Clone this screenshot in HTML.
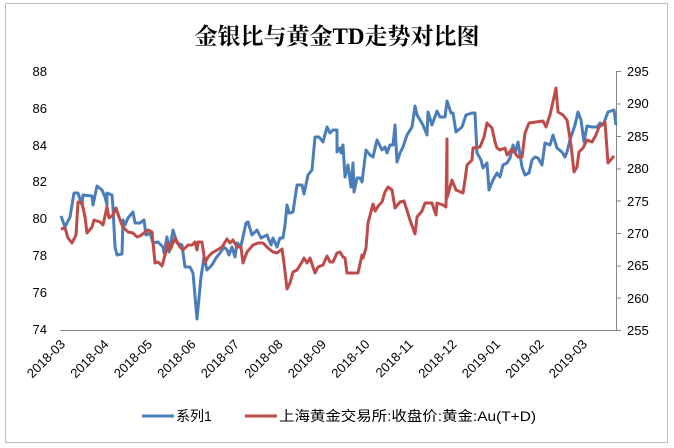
<!DOCTYPE html>
<html><head><meta charset="utf-8"><style>
body{margin:0;background:#fff}
svg{display:block;font-family:"Liberation Sans","Noto Sans CJK SC",sans-serif}
</style></head><body>
<svg width="674" height="448" viewBox="0 0 674 448">
<rect x="5.5" y="3.5" width="662" height="439" fill="#fff" stroke="#bfbfbf"/>
<text x="337" y="44" text-anchor="middle" font-size="23" font-weight="bold" font-family="'Liberation Serif','Noto Serif CJK SC',serif" fill="#000">金银比与黄金TD走势对比图</text>
<g font-size="13" fill="#000" text-anchor="end">
<text x="47" y="76">88</text><text x="47" y="113">86</text><text x="47" y="150">84</text><text x="47" y="186">82</text><text x="47" y="223">80</text><text x="47" y="260">78</text><text x="47" y="297">76</text><text x="47" y="334">74</text>
</g>
<g font-size="13" fill="#000">
<text x="627" y="76">295</text><text x="627" y="108">290</text><text x="627" y="141">285</text><text x="627" y="173">280</text><text x="627" y="206">275</text><text x="627" y="238">270</text><text x="627" y="270">265</text><text x="627" y="303">260</text><text x="627" y="335">255</text>
</g>
<line x1="60" y1="330.5" x2="616" y2="330.5" stroke="#868686"/>
<line x1="616.5" y1="71" x2="616.5" y2="330" stroke="#868686"/>
<g stroke="#868686"><line x1="616" y1="71.5" x2="621" y2="71.5"/><line x1="616" y1="104" x2="621" y2="104"/><line x1="616" y1="136.5" x2="621" y2="136.5"/><line x1="616" y1="169" x2="621" y2="169"/><line x1="616" y1="201" x2="621" y2="201"/><line x1="616" y1="233.5" x2="621" y2="233.5"/><line x1="616" y1="266" x2="621" y2="266"/><line x1="616" y1="298" x2="621" y2="298"/><line x1="616" y1="330.5" x2="621" y2="330.5"/></g>
<g font-size="13" fill="#000" text-anchor="end">
<text transform="translate(66,345) rotate(-45)">2018-03</text>
<text transform="translate(109.5,345) rotate(-45)">2018-04</text>
<text transform="translate(153,345) rotate(-45)">2018-05</text>
<text transform="translate(196.5,345) rotate(-45)">2018-06</text>
<text transform="translate(240,345) rotate(-45)">2018-07</text>
<text transform="translate(283.5,345) rotate(-45)">2018-08</text>
<text transform="translate(327,345) rotate(-45)">2018-09</text>
<text transform="translate(370.5,345) rotate(-45)">2018-10</text>
<text transform="translate(414,345) rotate(-45)">2018-11</text>
<text transform="translate(457.5,345) rotate(-45)">2018-12</text>
<text transform="translate(501,345) rotate(-45)">2019-01</text>
<text transform="translate(544.5,345) rotate(-45)">2019-02</text>
<text transform="translate(588,345) rotate(-45)">2019-03</text>
</g>
<polyline fill="none" stroke="#4a7ebb" stroke-width="3" stroke-linejoin="round" points="61,216 65,227 70,217 74,193 78,193 82,205 83,195 92,196 93,205 97,186 102,190 105,197 107,205 107,193 112,195 113,208 115,247 117,255 122,254 123,220 125,225 128,218 133,212 135,223 140,223 144,220 146,235 150,233 153,243 158,242 163,247 164,253 167,237 169,252 173,230 177,243 182,245 185,267 190,267 193,273 197,319 201,277 204,257 207,270 212,265 216,258 220,253 224,247 227,250 229,255 232,247 235,257 237,243 241,246 243,237 246,223 248,222 252,235 257,230 261,238 267,235 271,245 273,238 277,247 280,238 283,238 285,225 287,205 289,213 293,212 297,185 302,185 304,194 308,175 312,170 315,137 319,137 323,142 327,127 330,133 333,130 337,130 337,152 340,148 341,153 343,145 345,177 348,165 351,187 353,163 354,192 357,178 360,178 362,182 366,150 370,155 373,157 377,140 382,150 385,147 387,153 390,145 393,145 395,125 397,162 400,153 403,147 407,135 412,127 415,106 417,115 423,125 427,135 428,112 432,125 437,111 440,117 445,117 447,101 451,113 453,113 456,132 462,127 463,124 466,115 472,113 475,113 477,153 481,160 483,168 487,163 489,190 493,180 497,173 500,177 503,165 507,163 510,158 513,145 515,153 518,142 522,167 525,175 529,173 532,160 535,157 538,158 542,165 545,143 550,145 553,135 557,148 562,152 565,157 567,152 570,140 575,125 578,112 581,120 584,142 587,126 592,127 597,127 600,123 603,125 608,112 614,110 616,125"/>
<polyline fill="none" stroke="#be4b48" stroke-width="3" stroke-linejoin="round" points="61,229 65,228 68,238 72,243 76,235 78,202 82,203 85,217 87,233 92,227 94,220 100,222 103,225 107,207 109,218 113,215 116,208 120,220 123,227 128,232 133,233 137,237 140,236 144,233 148,230 152,232 155,263 158,262 162,266 165,255 168,243 170,250 175,238 180,247 183,250 188,245 192,245 195,242 197,250 198,242 202,242 205,263 208,257 212,253 217,250 222,247 227,239 230,243 233,240 237,247 241,247 243,263 247,252 253,245 258,243 263,243 268,248 273,252 277,253 282,249 284,263 287,289 290,283 293,272 297,270 302,262 304,258 307,263 310,258 315,273 318,267 323,265 327,256 330,262 333,262 337,253 340,252 343,257 345,258 347,273 358,273 362,255 363,258 366,248 368,223 373,204 375,211 379,205 382,202 385,192 388,187 392,190 395,208 400,202 404,201 410,220 415,234 417,217 422,211 425,203 432,203 436,215 437,203 443,205 446,207 447,139 447,198 452,180 456,190 463,193 465,180 467,165 472,160 473,148 480,147 484,137 487,123 492,128 495,142 497,148 500,150 505,148 507,155 512,149 518,157 522,157 525,133 529,123 543,121 546,127 550,115 556,88 558,112 563,115 567,120 571,145 574,172 577,167 579,152 583,148 587,140 592,142 596,135 599,127 605,122 608,163 614,156"/>
<line x1="142" y1="416" x2="174" y2="416" stroke="#4a7ebb" stroke-width="3"/>
<text x="176" y="421" font-size="14">系列1</text>
<line x1="245" y1="416" x2="277" y2="416" stroke="#be4b48" stroke-width="3"/>
<text x="279" y="421" font-size="14" textLength="257" lengthAdjust="spacingAndGlyphs">上海黄金交易所:收盘价:黄金:Au(T+D)</text>
</svg>
</body></html>
